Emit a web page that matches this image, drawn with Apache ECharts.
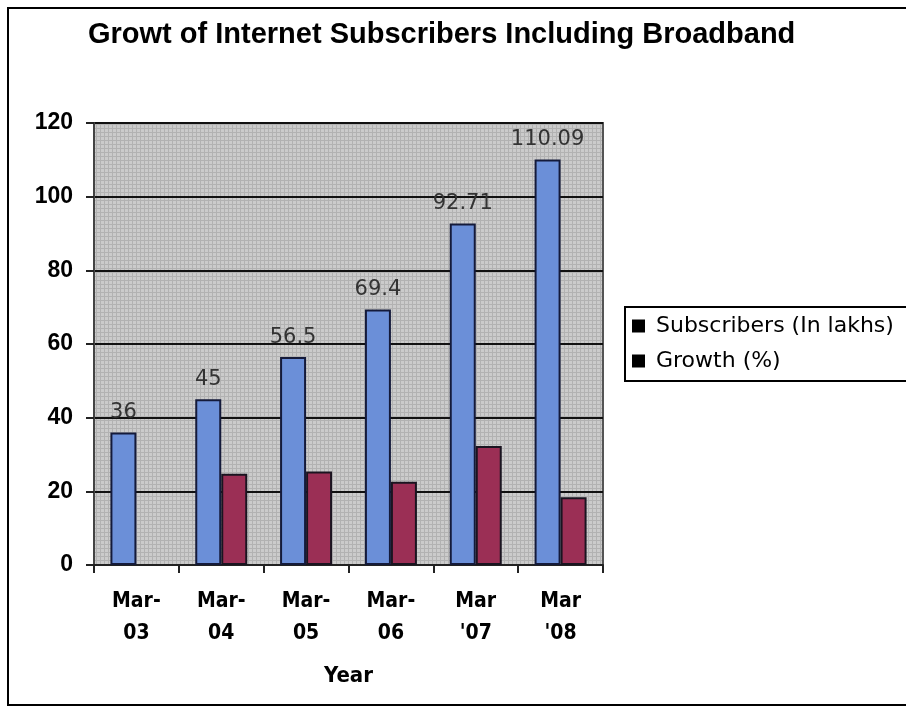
<!DOCTYPE html>
<html>
<head>
<meta charset="utf-8">
<title>Growth of Internet Subscribers</title>
<script src="https://cdn.jsdelivr.net/npm/echarts@6/dist/echarts.min.js"></script>
<style>
  html, body { margin: 0; padding: 0; background: #fff; }
  #chart { width: 906px; height: 707px; }
</style>
</head>
<body>
<div id="chart"></div>
<script>
// Chart data
const categories = ['Mar-\n03', 'Mar-\n04', 'Mar-\n05', 'Mar-\n06', 'Mar\n\'07', 'Mar\n\'08'];
const subscribers = [36, 45, 56.5, 69.4, 92.71, 110.09];
const growth = [null, 24.8, 25.4, 22.6, 32.3, 18.4];
const yTicks = [0, 20, 40, 60, 80, 100, 120];

// Fine mesh texture for the plot background
function meshPattern() {
  const c = document.createElement('canvas');
  c.width = 4; c.height = 4;
  const g = c.getContext('2d');
  g.fillStyle = '#cbcbcb';
  g.fillRect(0, 0, 4, 4);
  g.fillStyle = '#b2b2b2';
  g.fillRect(0, 0, 4, 1);
  g.fillRect(0, 0, 1, 4);
  return c;
}

const sansFont = '"Liberation Sans", Arial, sans-serif';
const wideFont = '"DejaVu Sans", Verdana, sans-serif';
const narrowFont = '"DejaVu Sans Condensed", "Liberation Sans", Arial, sans-serif';
const chart = echarts.init(document.getElementById('chart'));

chart.setOption({
  backgroundColor: '#fff',
  animation: false,
  title: {
    text: 'Growt of Internet Subscribers Including Broadband',
    left: 83,
    top: 15,
    textStyle: {
      fontFamily: sansFont,
      fontWeight: 900,
      fontSize: 29,
      color: '#000'
    }
  },
  graphic: [{
    type: 'rect',
    shape: { x: 8, y: 8, width: 930, height: 697 },
    style: { fill: 'none', stroke: '#000', lineWidth: 2 },
    silent: true,
    z: 0
  }],
  legend: {
    left: 625,
    top: 307,
    orient: 'vertical',
    itemWidth: 13,
    itemHeight: 13,
    itemGap: 13,
    padding: [8, 20, 9, 7],
    borderColor: '#000',
    borderWidth: 2,
    backgroundColor: '#fff',
    icon: 'rect',
    textStyle: {
      fontFamily: wideFont,
      fontSize: 22,
      color: '#000',
      padding: [0, 0, 0, 6]
    },
    data: [
      { name: 'Subscribers (In lakhs)', itemStyle: { color: '#000', borderWidth: 0 } },
      { name: 'Growth (%)', itemStyle: { color: '#000', borderWidth: 0 } }
    ]
  },
  grid: {
    left: 94,
    right: 303,
    top: 123,
    bottom: 142,
    show: true,
    backgroundColor: { image: meshPattern(), repeat: 'repeat' },
    borderColor: '#555',
    borderWidth: 2
  },
  xAxis: {
    type: 'category',
    data: categories,
    name: 'Year',
    nameLocation: 'middle',
    nameGap: 100,
    nameTextStyle: {
      fontFamily: narrowFont,
      fontWeight: 'bold',
      fontSize: 22,
      color: '#000'
    },
    axisLine: { lineStyle: { color: '#222', width: 2 } },
    axisTick: { show: true, alignWithLabel: false, length: 8, lineStyle: { color: '#222', width: 2 } },
    axisLabel: {
      margin: 21,
      lineHeight: 32,
      fontFamily: narrowFont,
      fontWeight: 'bold',
      fontSize: 21,
      color: '#000'
    }
  },
  yAxis: {
    type: 'value',
    min: 0,
    max: 120,
    interval: 20,
    axisLine: { show: true, lineStyle: { color: '#444', width: 2 } },
    axisTick: { show: true, length: 8, lineStyle: { color: '#222', width: 2 } },
    axisLabel: {
      margin: 21,
      fontFamily: sansFont,
      fontWeight: 'bold',
      fontSize: 23,
      color: '#000',
      formatter: v => (yTicks.indexOf(v) >= 0 ? String(v) : '')
    },
    splitLine: { show: true, lineStyle: { color: '#111', width: 2 } }
  },
  series: [
    {
      name: 'Subscribers (In lakhs)',
      type: 'bar',
      data: subscribers,
      barWidth: 26,
      barGap: '0%',
      itemStyle: { color: '#6b8fd8', borderColor: '#141a3a', borderWidth: 2 },
      label: {
        show: true,
        position: 'top',
        distance: 9,
        fontFamily: wideFont,
        fontSize: 21,
        color: '#333'
      }
    },
    {
      name: 'Growth (%)',
      type: 'bar',
      data: growth,
      barWidth: 26,
      barGap: '0%',
      itemStyle: { color: '#9b2f55', borderColor: '#1a1420', borderWidth: 2 }
    }
  ]
});
</script>
</body>
</html>
